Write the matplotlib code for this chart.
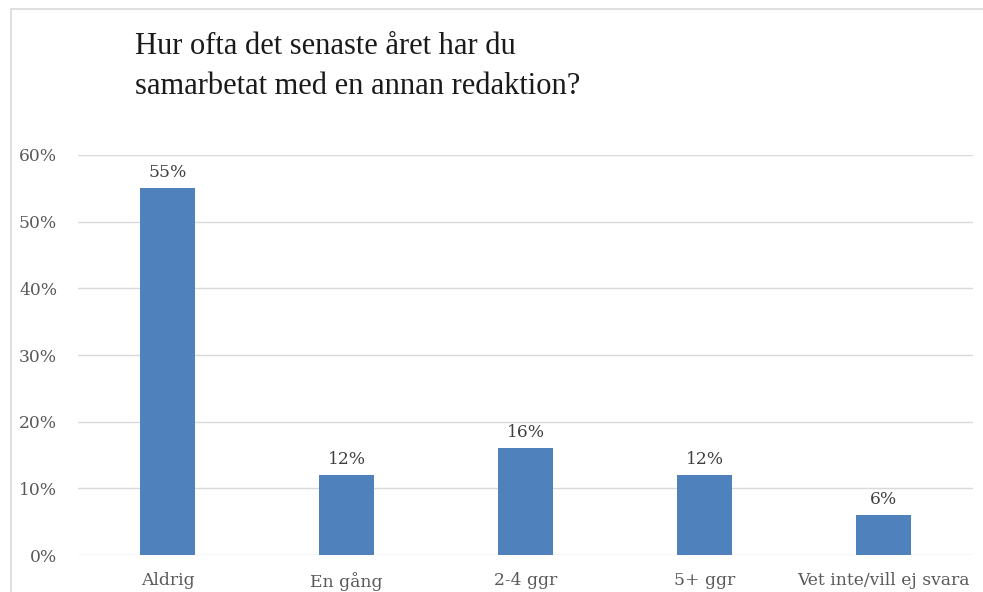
import matplotlib
matplotlib.use('Agg')
import matplotlib.pyplot as plt
from matplotlib.patches import Rectangle

categories = ['Aldrig', 'En gång', '2-4 ggr', '5+ ggr', 'Vet inte/vill ej svara']
values = [0.55, 0.12, 0.16, 0.12, 0.06]
value_labels = ['55%', '12%', '16%', '12%', '6%']
yticks = [0, 0.1, 0.2, 0.3, 0.4, 0.5, 0.6]
ytick_labels = ['0%', '10%', '20%', '30%', '40%', '50%', '60%']
title = 'Hur ofta det senaste året har du\nsamarbetat med en annan redaktion?'

plt.rcParams['font.family'] = ['DejaVu Serif']
W, H = 983, 592
fig = plt.figure(figsize=(W / 100, H / 100), dpi=100)

# chart frame
fig.patches.append(Rectangle((11 / W, -0.1), 1.1, 1 - 9 / H + 0.1, transform=fig.transFigure,
                             fill=False, edgecolor='#d9d9d9', linewidth=1.2))

ax = fig.add_axes([78 / W, 1 - 555 / H, (973 - 78) / W, (555 - 155) / H])
x = range(len(categories))
ax.bar(x, values, width=0.31, color='#4f81bd', zorder=3)
for xi, v, lab in zip(x, values, value_labels):
    ax.text(xi, v + 0.011, lab, ha='center', va='bottom', fontsize=12.3, color='#404040')

ax.set_ylim(0, 0.6)
ax.set_xlim(-0.5, len(categories) - 0.5)
ax.set_yticks(yticks)
ax.set_yticklabels(ytick_labels)
ax.set_xticks(list(x))
ax.set_xticklabels(categories)
ax.tick_params(length=0, labelsize=12.3, colors='#595959')
ax.tick_params(axis='y', pad=15)
ax.tick_params(axis='x', pad=12)
ax.grid(axis='y', color='#d9d9d9', linewidth=1, zorder=0)
for s in ax.spines.values():
    s.set_visible(False)

fig.text(135 / W, 1 - 32 / H, title, fontsize=22, color='#1a1a1a', va='top', ha='left',
         linespacing=1.5, family='Liberation Serif')

fig.savefig('out.png', dpi=100)
